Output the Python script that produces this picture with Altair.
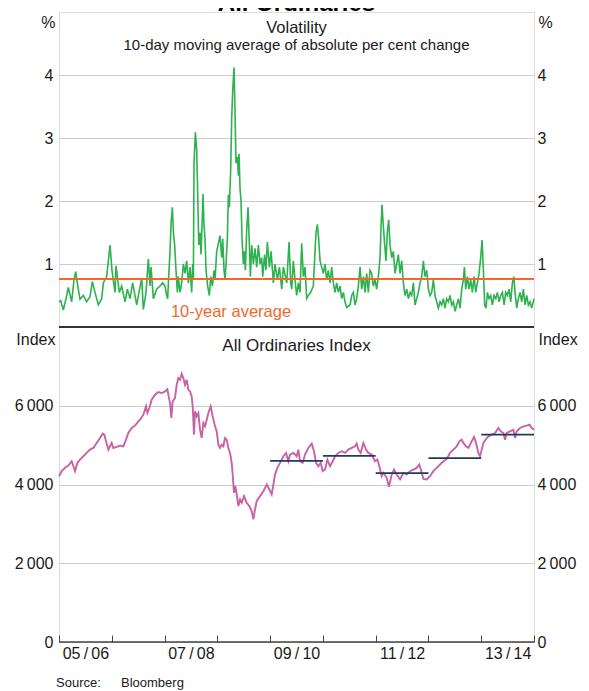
import altair as alt
import pandas as pd

# ---------------- data ----------------
# Volatility: 10-day moving average of absolute per cent change (decimal year, %)
VOL_T = [2005.500, 2005.532, 2005.582, 2005.633, 2005.677, 2005.740, 2005.784, 2005.816, 2005.847, 2005.898,
         2005.961, 2006.024, 2006.087, 2006.132, 2006.182, 2006.245, 2006.309, 2006.340, 2006.403, 2006.435,
         2006.467, 2006.504, 2006.561, 2006.580, 2006.643, 2006.688, 2006.751, 2006.795, 2006.846, 2006.896,
         2006.972, 2007.067, 2007.098, 2007.149, 2007.193, 2007.225, 2007.244, 2007.288, 2007.351, 2007.414,
         2007.465, 2007.509, 2007.540, 2007.559, 2007.578, 2007.604, 2007.623, 2007.648, 2007.667, 2007.692,
         2007.717, 2007.743, 2007.761, 2007.793, 2007.825, 2007.856, 2007.888, 2007.919, 2007.951, 2007.983,
         2008.014, 2008.033, 2008.046, 2008.058, 2008.084, 2008.109, 2008.134, 2008.147, 2008.172, 2008.191,
         2008.210, 2008.229, 2008.248, 2008.267, 2008.286, 2008.317, 2008.349, 2008.374, 2008.406, 2008.437,
         2008.456, 2008.488, 2008.526, 2008.551, 2008.583, 2008.602, 2008.627, 2008.646, 2008.665, 2008.690,
         2008.709, 2008.728, 2008.753, 2008.772, 2008.791, 2008.816, 2008.835, 2008.854, 2008.880, 2008.899,
         2008.911, 2008.930, 2008.949, 2008.968, 2008.993, 2009.012, 2009.031, 2009.057, 2009.082, 2009.107,
         2009.126, 2009.151, 2009.183, 2009.214, 2009.246, 2009.278, 2009.309, 2009.341, 2009.360, 2009.395,
         2009.420, 2009.448, 2009.486, 2009.518, 2009.562, 2009.593, 2009.638, 2009.676, 2009.720, 2009.751,
         2009.815, 2009.859, 2009.890,
         2009.909, 2009.940, 2009.972, 2010.003, 2010.035, 2010.067, 2010.098, 2010.130, 2010.161, 2010.193,
         2010.224, 2010.269, 2010.319, 2010.351, 2010.370, 2010.395, 2010.420, 2010.446, 2010.477, 2010.509,
         2010.540, 2010.572, 2010.603, 2010.635, 2010.667, 2010.698, 2010.730, 2010.761, 2010.793, 2010.825,
         2010.856, 2010.888, 2010.919, 2010.951, 2011.014, 2011.046, 2011.077, 2011.109, 2011.140, 2011.172,
         2011.204, 2011.235, 2011.267, 2011.298, 2011.330, 2011.361, 2011.393, 2011.425, 2011.456, 2011.488,
         2011.519, 2011.551, 2011.583, 2011.602, 2011.620, 2011.646, 2011.671, 2011.696, 2011.721, 2011.747,
         2011.772, 2011.804, 2011.835, 2011.867, 2011.898, 2011.930, 2011.962, 2011.993, 2012.025, 2012.056,
         2012.088, 2012.120, 2012.151, 2012.183, 2012.214, 2012.246, 2012.277, 2012.309, 2012.341, 2012.372,
         2012.404, 2012.435, 2012.467, 2012.499, 2012.530, 2012.562, 2012.593, 2012.625, 2012.656, 2012.688,
         2012.720, 2012.751, 2012.783, 2012.814, 2012.846, 2012.878, 2012.909, 2012.941, 2012.972, 2013.004,
         2013.035, 2013.067, 2013.099, 2013.130, 2013.162, 2013.181, 2013.206, 2013.238, 2013.269, 2013.301,
         2013.332, 2013.364, 2013.396, 2013.427, 2013.459, 2013.490, 2013.516, 2013.541, 2013.566, 2013.591,
         2013.617, 2013.648, 2013.680, 2013.711, 2013.743, 2013.775, 2013.806, 2013.838, 2013.869, 2013.901,
         2013.933, 2013.964, 2013.996, 2014.027, 2014.059, 2014.090, 2014.116, 2014.141, 2014.173, 2014.204,
         2014.236, 2014.267, 2014.299, 2014.330, 2014.362, 2014.394, 2014.425, 2014.457, 2014.500]
VOL_V = [0.40, 0.42, 0.27, 0.45, 0.63, 0.40, 0.75, 0.88, 0.70, 0.44,
         0.50, 0.40, 0.48, 0.72, 0.55, 0.35, 0.45, 0.70, 0.80, 1.05,
         1.30, 0.90, 0.55, 0.97, 0.55, 0.65, 0.40, 0.60, 0.45, 0.70,
         0.35, 0.78, 0.28, 0.55, 1.08, 0.65, 0.95, 0.45, 0.60, 0.65,
         0.70, 0.65, 0.50, 0.45, 0.80, 1.20, 1.64, 1.90, 1.50, 1.30,
         0.90, 0.55, 0.80, 0.55, 0.70, 1.00, 0.85, 1.05, 0.70, 0.95,
         0.55, 1.00, 0.75, 2.60, 3.09, 2.80, 1.90, 1.30, 1.50, 1.15,
         1.60, 2.11, 1.60, 1.40, 0.90, 0.65, 0.50, 0.80, 0.65, 0.90,
         0.75, 1.20, 1.35, 1.45, 1.10, 1.40, 0.90, 0.75, 1.00, 1.40,
         2.10, 1.90, 2.50, 3.30, 3.75, 4.12, 3.40, 2.60, 2.70, 2.40,
         2.75, 2.20, 2.00, 1.40, 1.00, 1.20, 0.90, 1.55, 1.90, 1.30,
         0.80, 1.30, 1.00, 1.25, 0.95, 1.30, 1.00, 1.10, 0.80, 1.15,
         0.90, 1.35, 0.95, 1.20, 0.70, 1.00, 0.75, 0.95, 0.60, 0.95,
         0.70, 1.35, 0.70,
         0.60, 1.05, 0.75, 0.50, 0.70, 0.55, 1.33, 0.80, 0.95, 0.45,
         0.50, 0.55, 0.65, 1.20, 1.50, 1.63, 1.40, 1.05, 0.95, 0.85,
         1.00, 0.75, 0.90, 0.70, 0.95, 0.70, 0.55, 0.70, 0.55, 0.65,
         0.45, 0.55, 0.40, 0.31, 0.35, 0.50, 0.55, 0.35, 0.45, 0.65,
         0.95, 0.60, 0.80, 0.55, 0.85, 0.55, 0.90, 0.85, 0.65, 0.75,
         0.60, 0.80, 1.10, 1.60, 1.94, 1.60, 1.30, 1.05, 1.50, 1.70,
         1.30, 1.10, 1.20, 0.85, 1.00, 1.15, 0.85, 1.05, 0.70, 0.50,
         0.60, 0.45, 0.55, 0.50, 0.70, 0.35, 0.45, 0.55, 0.70, 0.80,
         1.05, 0.80, 0.90, 0.60, 0.50, 0.55, 0.75, 0.50, 0.40, 0.30,
         0.40, 0.35, 0.45, 0.30, 0.45, 0.40, 0.50, 0.35, 0.40, 0.25,
         0.35, 0.45, 0.30, 0.60, 0.75, 0.95, 0.60, 0.80, 0.60, 0.75,
         0.55, 0.80, 0.55, 0.70, 0.85, 1.10, 1.38, 0.90, 0.35, 0.30,
         0.55, 0.45, 0.50, 0.35, 0.50, 0.45, 0.55, 0.40, 0.50, 0.55,
         0.35, 0.55, 0.50, 0.60, 0.40, 0.70, 0.80, 0.55, 0.30, 0.45,
         0.55, 0.40, 0.60, 0.35, 0.50, 0.35, 0.40, 0.30, 0.45]
VOL_AVG = 0.76  # 10-year average

# All Ordinaries Index (decimal year, index level)
IDX_T = [2005.500, 2005.551, 2005.614, 2005.677, 2005.740, 2005.772, 2005.803, 2005.847, 2005.898, 2005.961,
         2006.024, 2006.087, 2006.151, 2006.214, 2006.277, 2006.328, 2006.359, 2006.391, 2006.435, 2006.467,
         2006.498, 2006.530, 2006.593, 2006.656, 2006.719, 2006.770, 2006.814, 2006.877, 2006.940, 2007.003,
         2007.035, 2007.098, 2007.149, 2007.174, 2007.212, 2007.256, 2007.319, 2007.382, 2007.446, 2007.509,
         2007.553, 2007.578, 2007.604, 2007.629, 2007.654, 2007.698, 2007.730, 2007.761, 2007.793, 2007.825,
         2007.856, 2007.888, 2007.919, 2007.951, 2007.983, 2008.014, 2008.033, 2008.058, 2008.077, 2008.109,
         2008.140, 2008.172, 2008.204, 2008.235, 2008.267, 2008.298, 2008.330, 2008.374, 2008.412, 2008.456,
         2008.488, 2008.520, 2008.551, 2008.583, 2008.614, 2008.646, 2008.677, 2008.709, 2008.741, 2008.772,
         2008.791, 2008.816, 2008.842, 2008.867, 2008.899, 2008.930, 2008.962, 2009.006, 2009.056, 2009.107,
         2009.151, 2009.183, 2009.214, 2009.246, 2009.309, 2009.372, 2009.436, 2009.486, 2009.530, 2009.562,
         2009.593, 2009.638, 2009.688, 2009.751, 2009.802, 2009.846,
         2009.877, 2009.940, 2010.003, 2010.035, 2010.067, 2010.117, 2010.161, 2010.224, 2010.288, 2010.332,
         2010.370, 2010.414, 2010.458, 2010.496, 2010.540, 2010.585, 2010.635, 2010.686, 2010.730, 2010.793,
         2010.856, 2010.919, 2010.982, 2011.046, 2011.109, 2011.140, 2011.172, 2011.216, 2011.267, 2011.317,
         2011.361, 2011.425, 2011.488, 2011.532, 2011.570, 2011.614, 2011.646, 2011.709, 2011.753, 2011.804,
         2011.848, 2011.898, 2011.962, 2012.025, 2012.088, 2012.151, 2012.214, 2012.277, 2012.328, 2012.372,
         2012.404, 2012.467, 2012.530, 2012.593, 2012.656, 2012.720, 2012.783, 2012.846, 2012.909, 2012.972,
         2013.036, 2013.086, 2013.130, 2013.162, 2013.212, 2013.257, 2013.320, 2013.364, 2013.402, 2013.446,
         2013.478, 2013.509, 2013.541, 2013.591, 2013.636, 2013.699, 2013.762, 2013.825, 2013.869, 2013.920,
         2013.951, 2013.983, 2014.046, 2014.109, 2014.141, 2014.173, 2014.236, 2014.299, 2014.362, 2014.413,
         2014.457, 2014.500]
IDX_V = [4211, 4338, 4423, 4482, 4591, 4470, 4338, 4549, 4633, 4717,
         4802, 4886, 4928, 5055, 5181, 5291, 5266, 5097, 4886, 4970,
         5055, 4928, 4953, 4987, 4970, 5139, 5308, 5435, 5494, 5604,
         5646, 5773, 5984, 5815, 5942, 6153, 6280, 6347, 6322, 6364,
         6423, 6237, 6069, 5689, 6111, 6196, 6533, 6702, 6660, 6812,
         6702, 6533, 6660, 6406, 6364, 6237, 5984, 5266, 5857, 5731,
         5815, 5392, 5181, 5561, 5477, 5646, 5815, 5984, 5731, 5477,
         5350, 5013, 4928, 5013, 4970, 5181, 5139, 4928, 4802, 4549,
         4253, 3789, 3958, 3747, 3452, 3620, 3536, 3705, 3536, 3452,
         3325, 3114, 3367, 3578, 3705, 3831, 4000, 3873, 3747, 4000,
         4253, 4423, 4549, 4717, 4802, 4591,
         4760, 4802, 4717, 4886, 4591, 4549, 4760, 4928, 5038, 4844,
         4549, 4464, 4549, 4338, 4380, 4633, 4464, 4591, 4717, 4802,
         4844, 4802, 4886, 4928, 4970, 5038, 4886, 4802, 5055, 4886,
         4802, 4760, 4591, 4633, 4464, 4211, 4296, 4169, 3941, 4253,
         4380, 4253, 4127, 4296, 4253, 4338, 4380, 4422, 4507, 4296,
         4144, 4127, 4211, 4338, 4422, 4507, 4591, 4650, 4802, 4886,
         4970, 5097, 5139, 5055, 4970, 4928, 5097, 5207, 5055, 4802,
         4717, 4886, 5055, 5156, 5224, 5266, 5308, 5435, 5350, 5308,
         5139, 5308, 5350, 5392, 5181, 5350, 5435, 5477, 5494, 5519,
         5435, 5392]

# Financial-year averages of the index
FY_START = [2009.5, 2010.5, 2011.5, 2012.5, 2013.5]
FY_END = [2010.5, 2011.5, 2012.5, 2013.5, 2014.5]
FY_AVG = [4600, 4727, 4287, 4668, 5268]

# x axis: ticks at 1 July each year, labels for every second financial year
X_TICKS = [2005.5, 2006.5, 2007.5, 2008.5, 2009.5, 2010.5, 2011.5, 2012.5, 2013.5, 2014.5]
X_LABEL_AT = [2005.5, 2007.5, 2009.5, 2011.5, 2013.5]
X_LABELS = ["05\u2009/\u200906", "07\u2009/\u200908", "09\u2009/\u200910", "11\u2009/\u200912", "13\u2009/\u200914"]

TOP_TICKS = [1, 2, 3, 4]
BOT_TICKS = [0, 2000, 4000, 6000]

# ---------------- styling ----------------
FONT = "Liberation Sans"
GREEN = "#2db24f"
ORANGE = "#f0692a"
PINK = "#c862a6"
NAVY = "#1f3a60"
TXT = "#1a1a1a"
W, H = 475, 630
HALF = H / 2

vol = pd.DataFrame({"t": VOL_T, "v": VOL_V})
idx = pd.DataFrame({"t": IDX_T, "v": IDX_V})
fy = pd.DataFrame({"t": FY_START, "t2": FY_END, "v": FY_AVG})
avg = pd.DataFrame({"v": [VOL_AVG]})
zero = pd.DataFrame({"v": [0]})

xscale = alt.Scale(domain=[2005.5, 2014.5], nice=False, zero=False)
top_scale = alt.Scale(domain=[0, 5], range=[HALF, 0], nice=False, zero=False)
bot_scale = alt.Scale(domain=[0, 8000], range=[H, HALF], nice=False, zero=False)

label_expr = " : ".join(f"datum.value == {v} ? '{l}'" for v, l in zip(X_LABEL_AT, X_LABELS)) + " : ''"
x_axis = alt.Axis(values=X_TICKS, title=None, grid=False, domain=False, ticks=True,
                  tickSize=7, tickColor="#444", tickWidth=1, offset=-7,
                  labelExpr=label_expr, labelOffset=W / 9 / 2, labelPadding=3,
                  labelFontSize=16, labelColor=TXT, labelFont=FONT,
                  labelOverlap=False, labelFlush=False, labelBound=False)
X = alt.X("t:Q", scale=xscale, axis=x_axis)

thin_fmt = "replace(format(datum.value, ','), ',', '\u2009')"


def y_axis(values, orient, title, title_y, grid, expr=None):
    left = orient == "left"
    kw = dict(values=values, orient=orient, title=title, grid=grid,
              gridColor="#cccccc", gridWidth=1, domain=False, ticks=False,
              labelFontSize=16, labelColor=TXT, labelFont=FONT,
              labelPadding=6 if left else 3, labelFlush=False, labelOverlap=False,
              titleAngle=0, titleFontSize=16, titleFontWeight="normal", titleFont=FONT,
              titleColor=TXT, titleBaseline="top",
              titleAlign="right" if left else "left",
              titleX=-4 if left else 4, titleY=title_y)
    if expr:
        kw["labelExpr"] = expr
    return alt.Axis(**kw)


ax_tl = y_axis(TOP_TICKS, "left", "%", 2, True)
ax_tr = y_axis(TOP_TICKS, "right", "%", 2, False)
ax_bl = y_axis(BOT_TICKS, "left", "Index", HALF + 4, True, thin_fmt)
ax_br = y_axis(BOT_TICKS, "right", "Index", HALF + 4, False, thin_fmt)

# top panel (volatility) - left axis
green = alt.Chart(vol).mark_line(color=GREEN, strokeWidth=1.6).encode(
    x=X, y=alt.Y("v:Q", scale=top_scale, axis=ax_tl))
sep = alt.Chart(zero).mark_rule(color="#333333", strokeWidth=2).encode(
    y=alt.Y("v:Q", scale=top_scale, axis=ax_tl))
layer_top = alt.layer(green, sep)

# top panel - right axis + average line
avg_rule = alt.Chart(avg).mark_rule(color=ORANGE, strokeWidth=2).encode(
    y=alt.Y("v:Q", scale=top_scale, axis=ax_tr))

# bottom panel (index) - left axis
pink = alt.Chart(idx).mark_line(color=PINK, strokeWidth=1.9).encode(
    x=X, y=alt.Y("v:Q", scale=bot_scale, axis=ax_bl))
base = alt.Chart(zero).mark_rule(color="#444444", strokeWidth=1.5).encode(
    y=alt.Y("v:Q", scale=bot_scale, axis=ax_bl))
layer_bot = alt.layer(pink, base)

# bottom panel - right axis + financial-year averages
segs = alt.Chart(fy).mark_rule(color=NAVY, strokeWidth=1.8).encode(
    x=X, x2="t2:Q", y=alt.Y("v:Q", scale=bot_scale, axis=ax_br))


def label(text, x, y, size, color=TXT, align="center", weight="normal", baseline="top"):
    return alt.Chart(pd.DataFrame({"s": [text]})).mark_text(
        font=FONT, fontSize=size, color=color, align=align, baseline=baseline,
        fontWeight=weight).encode(x=alt.value(x), y=alt.value(y), text="s:N")


texts = [
    label("All Ordinaries", W / 2, -1, 24, color="#000", weight="bold", baseline="alphabetic"),
    label("Volatility", W / 2, 8, 16.5),
    label("10-day moving average of absolute per cent change", W / 2, 26, 15),
    label("10-year average", 172, 292, 16.5, color=ORANGE),
    label("All Ordinaries Index", W / 2, HALF + 11, 17),
    label("Source:", -3, H + 35, 13, align="left"),
    label("Bloomberg", 62, H + 35, 13, align="left"),
]

chart = alt.layer(layer_top, avg_rule, layer_bot, segs, *texts).resolve_scale(
    y="independent").resolve_axis(y="independent").properties(
    width=W, height=H,
    autosize=alt.AutoSizeParams(type="none"),
    padding={"left": 51, "top": 4, "right": 46, "bottom": 52},
    background="white",
).configure_view(stroke="#888888", strokeWidth=1).configure(font=FONT)

chart.save("out.html", embed_options={"renderer": "svg", "actions": False})
